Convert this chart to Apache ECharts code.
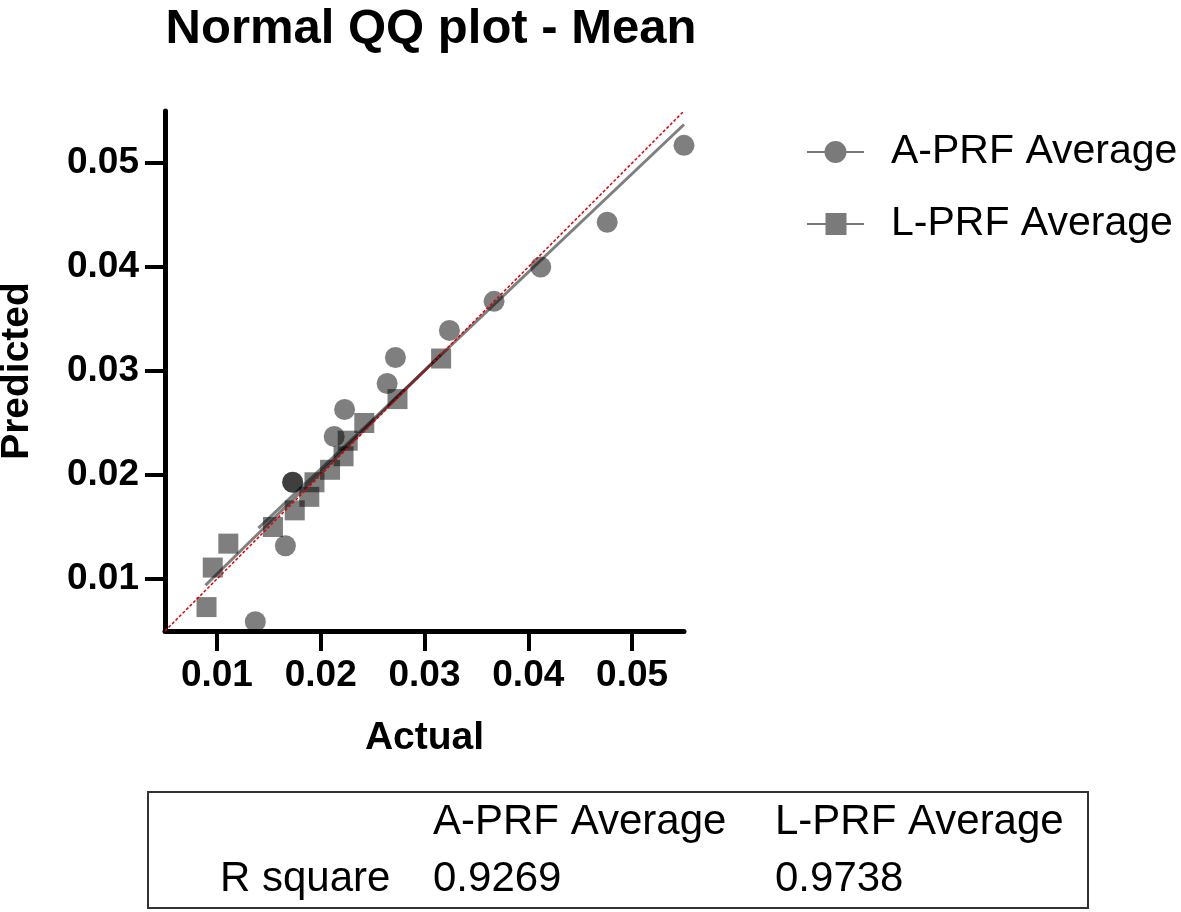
<!DOCTYPE html>
<html>
<head>
<meta charset="utf-8">
<script src="https://cdn.jsdelivr.net/npm/echarts@6/dist/echarts.min.js"></script>
<style>
html,body{margin:0;padding:0;background:#fff;}
#chart{width:1181px;height:912px;}
</style>
</head>
<body>
<div id="chart"></div>
<script>
// ---- data ----
var seriesNames = ['A-PRF Average', 'L-PRF Average'];
// A-PRF: [actual, predicted]
var aprfPoints = [
  [0.0550, 0.0517], [0.0476, 0.0443], [0.0412, 0.0400], [0.0367, 0.0367],
  [0.0324, 0.0339], [0.0272, 0.0313], [0.0264, 0.0288], [0.0223, 0.0263],
  [0.0213, 0.0237], [0.0173, 0.0193], [0.0173, 0.0193], [0.0166, 0.0132],
  [0.0137, 0.0059]
];
// L-PRF: [actual, predicted]
var lprfPoints = [
  [0.0316, 0.0312], [0.0274, 0.0273], [0.0242, 0.0250], [0.0226, 0.0233],
  [0.0222, 0.0218], [0.0209, 0.0205], [0.0194, 0.0193], [0.0189, 0.0179],
  [0.0175, 0.0166], [0.0154, 0.0150], [0.0111, 0.0134], [0.0096, 0.0111],
  [0.0090, 0.0073]
];
// fitted lines (end points)
var aprfFit = [[0.0140, 0.0149], [0.0550, 0.0537]];
var lprfFit = [[0.0089, 0.0094], [0.0316, 0.0316]];
var identityLine = [[0.005, 0.005], [0.055, 0.055]];
var tickValues = [0.01, 0.02, 0.03, 0.04, 0.05];
var tableHeader = ['A-PRF Average', 'L-PRF Average'];
var tableRowLabel = 'R square';
var rSquare = ['0.9269', '0.9738'];

// ---- chart ----
var markColor = 'rgba(0,0,0,0.5)';
var fontFam = '"Liberation Sans", Arial, Helvetica, sans-serif';
var chart = echarts.init(document.getElementById('chart'), null, {renderer: 'canvas'});

var circleIcon = 'path://M0,10 L57,10 L57,12 L0,12 Z M28.5,0 A11,11 0 1,1 28.49,0 Z';
var squareIcon = 'path://M0,10 L57,10 L57,12 L0,12 Z M18.5,0 L39.5,0 L39.5,22 L18.5,22 Z';

function axisCommon(name, gap) {
  return {
    type: 'value',
    min: 0.005,
    max: 0.055,
    name: name,
    nameLocation: 'middle',
    nameGap: gap,
    nameTextStyle: {fontFamily: fontFam, fontWeight: 'bold', fontSize: 39, color: '#000'},
    splitLine: {show: false},
    axisLine: {show: true, onZero: false, lineStyle: {color: '#000', width: 5}},
    axisTick: {show: true, length: 20, lineStyle: {color: '#000', width: 4}, customValues: tickValues},
    axisLabel: {
      fontFamily: fontFam, fontWeight: 'bold', fontSize: 37, color: '#000',
      customValues: tickValues, margin: 26,
      formatter: function (v) { return v.toFixed(2); }
    }
  };
}

var xAx = axisCommon('Actual', 88);
var yAx = axisCommon('Predicted', 128);
yAx.nameRotate = 90;

chart.setOption({
  animation: false,
  backgroundColor: '#fff',
  title: {
    text: 'Normal QQ plot - Mean',
    left: 426, textAlign: 'center',
    top: 0,
    textStyle: {fontFamily: fontFam, fontWeight: 'bold', fontSize: 49, color: '#000'}
  },
  grid: {left: 165, right: 497, top: 111, bottom: 281, containLabel: false, outerBoundsMode: 'none'},
  xAxis: xAx,
  yAxis: yAx,
  legend: {
    orient: 'vertical',
    left: 802, top: 124,
    itemWidth: 57, itemHeight: 22, itemGap: 26,
    data: [
      {name: seriesNames[0], icon: circleIcon},
      {name: seriesNames[1], icon: squareIcon}
    ],
    itemStyle: {color: 'rgba(0,0,0,0.52)', opacity: 1},
    textStyle: {fontFamily: fontFam, fontSize: 41, color: '#000', lineHeight: 46, padding: [0, 0, 0, 22]}
  },
  series: [
    {
      name: 'identity', type: 'line', data: identityLine, symbol: 'none',
      lineStyle: {color: '#e00000', width: 1.5, type: [3, 2]}, z: 5, silent: true
    },
    {
      name: 'A fit', type: 'line', data: aprfFit, symbol: 'none',
      lineStyle: {color: markColor, width: 3}, z: 3, silent: true
    },
    {
      name: 'L fit', type: 'line', data: lprfFit, symbol: 'none',
      lineStyle: {color: markColor, width: 3}, z: 3, silent: true
    },
    {
      name: seriesNames[0], type: 'scatter', data: aprfPoints,
      symbol: 'circle', symbolSize: 21,
      itemStyle: {color: markColor, opacity: 1}, z: 4
    },
    {
      name: seriesNames[1], type: 'scatter', data: lprfPoints,
      symbol: 'rect', symbolSize: 20,
      itemStyle: {color: markColor, opacity: 1}, z: 4
    }
  ],
  graphic: [
    {type: 'rect', shape: {x: 148, y: 792, width: 940, height: 116},
     style: {fill: 'none', stroke: '#333', lineWidth: 2}},
    {type: 'text', x: 433, y: 822, style: {text: tableHeader[0], font: '42px ' + fontFam, fill: '#000', verticalAlign: 'middle'}},
    {type: 'text', x: 775, y: 822, style: {text: tableHeader[1], font: '42px ' + fontFam, fill: '#000', verticalAlign: 'middle'}},
    {type: 'text', x: 220, y: 879, style: {text: tableRowLabel, font: '42px ' + fontFam, fill: '#000', verticalAlign: 'middle'}},
    {type: 'text', x: 433, y: 879, style: {text: rSquare[0], font: '42px ' + fontFam, fill: '#000', verticalAlign: 'middle'}},
    {type: 'text', x: 775, y: 879, style: {text: rSquare[1], font: '42px ' + fontFam, fill: '#000', verticalAlign: 'middle'}}
  ]
});
</script>
</body>
</html>
